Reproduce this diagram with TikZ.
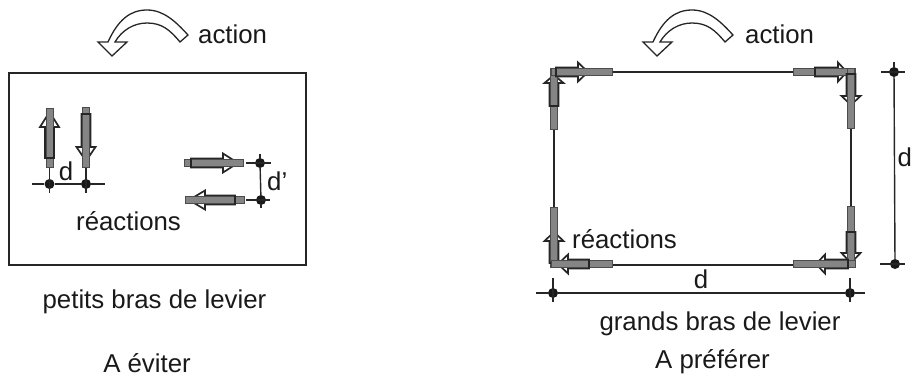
\documentclass[tikz,border=0pt]{standalone}
\usepackage{fontspec}
\setmainfont{Liberation Sans}
\tikzstyle{label} = [inner sep=0pt, font=\fontsize{25.8pt}{30pt}\selectfont, text=black!90]
\tikzstyle{wire} = [draw=black!85, line width=1.4pt]
\tikzstyle{dot} = [circle, fill=black!90, inner sep=0pt, minimum size=10pt]
\tikzstyle{hollow} = [draw=black!85, fill=white, line width=1.3pt, line join=miter]
% one reaction: bar from a to b, arrow tail at c, head base at d, tip at e (along the direction)
\newcommand{\reaction}[8]{
  \begin{scope}[shift={(#1,#2)},rotate=#3]
    \draw[hollow, line width=1.7pt] (#6,-4.6) -- (#7,-4.6) -- (#7,-9.5) -- (#8,0) -- (#7,9.5) -- (#7,4.6) -- (#6,4.6) -- cycle;
    \draw[fill=black!48, draw=black!70, line width=0.6pt] (#4,-3.6) rectangle (#5,3.6);
    \draw[black!85, line width=1.7pt] (#7,-4.6) -- (#6,-4.6) -- (#6,4.6) -- (#7,4.6);
  \end{scope}
}
\newcommand{\action}[2]{
  \draw[hollow, shift={(#1,#2)}] (10,42) .. controls (20,20) and (32,10) .. (49,10)
    .. controls (66,10) and (78,22) .. (90,35) -- (82,42)
    .. controls (72,30) and (64,23) .. (49,23)
    .. controls (36,23) and (24,30) .. (17,42) -- (29,42) -- (14,56) -- (0,42) -- cycle;
}
\begin{document}
\begin{tikzpicture}[x=1pt, y=-1pt]
  \useasboundingbox (0,0) rectangle (912,376);
  % left part
  \action{98}{0}
  \node[label, anchor=base west] (action1) at (198,43) {action};
  \node[draw=black!85, line width=1.6pt, minimum width=297pt, minimum height=192pt, inner sep=0pt, anchor=north west] (box1) at (8,72) {};
  \node[dot] (p1) at (49.5,184) {};
  \node[dot] (p2) at (86,184) {};
  \node[dot] (p3) at (260,163) {};
  \node[dot] (p4) at (261,200) {};
  \coordinate (p1l) at (32,184);
  \coordinate (p2r) at (105,184);
  \draw[wire] (p1l) -- (p1) -- (p2) -- (p2r);
  \draw[wire] (49.5,168) -- (49.5,193);
  \draw[wire] (86,168) -- (86,193);
  \draw[wire] (p3) -- (p4);
  \draw[wire] (246,163) -- (271,163) (260,154) -- (p3);
  \draw[wire] (246,200) -- (270,200) (p4) -- (261,208);
  \reaction{49.5}{158}{90}{-9}{50}{0}{31}{46}
  \reaction{86}{114}{-90}{-7}{53}{0}{33}{47}
  \reaction{191}{163}{0}{-7}{52}{0}{32}{47}
  \reaction{235}{200}{180}{-9}{50}{0}{30}{46}
  \node[label, anchor=base] (d1) at (66,180) {d};
  \node[label, anchor=base west] (d2) at (267,190) {d’};
  \node[label, anchor=base west] (reac1) at (76,230) {réactions};
  \node[label, anchor=base] (bras1) at (154.5,308) {petits bras de levier};
  \node[label, anchor=base] (eviter) at (147,372) {A éviter};
  % right part
  \action{643}{0}
  \node[label, anchor=base west] (action2) at (745,43) {action};
  \coordinate (tl) at (554,72);
  \coordinate (tr) at (851,72);
  \coordinate (br) at (851,265);
  \coordinate (bl) at (554,265);
  \draw[wire] (tl) -- (tr) -- (br) -- (bl) -- cycle;
  \reaction{554}{106}{90}{-23}{38}{0}{23}{31}
  \reaction{556}{72}{0}{-5}{56}{0}{22}{32}
  \reaction{815}{72}{0}{-22}{40}{0}{23}{32}
  \reaction{851}{74}{-90}{-6}{54}{0}{22}{31}
  \reaction{554}{263}{90}{-4}{56}{0}{22}{31}
  \reaction{589}{264}{180}{-23}{38}{0}{21}{31}
  \reaction{851}{232}{-90}{-26}{35}{0}{21}{31}
  \reaction{848}{264}{180}{-7}{55}{0}{23}{32}
  \node[dot] (q1) at (553,293) {};
  \node[dot] (q2) at (850,293) {};
  \coordinate (q1l) at (536,293);
  \coordinate (q2r) at (865,293);
  \draw[wire] (q1l) -- (q1) -- (q2) -- (q2r);
  \draw[wire] (553,278) -- (553,302) (850,278) -- (850,302);
  \node[dot] (r1) at (894,72) {};
  \node[dot] (r2) at (895,264) {};
  \draw[wire] (r1) -- (r2);
  \draw[wire] (881,72) -- (905,72) (894,62) -- (r1);
  \draw[wire] (880,264) -- (905,264);
  \node[label, anchor=base] (d3) at (701,288) {d};
  \node[label, anchor=base west] (d4) at (897.3,166) {d};
  \node[label, anchor=base west] (reac2) at (572,248) {réactions};
  \node[label, anchor=base] (bras2) at (720,330) {grands bras de levier};
  \node[label, anchor=base] (preferer) at (712.5,368) {A préférer};
\end{tikzpicture}
\end{document}
